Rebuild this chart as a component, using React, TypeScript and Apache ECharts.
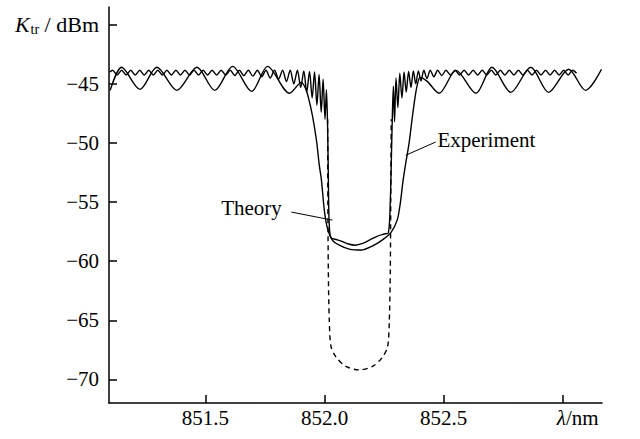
import React, { useEffect, useRef } from "react";
import * as echarts from "echarts";

// Axis ticks
const xTicks = [851.5, 852.0, 852.5, 853.0];
const yTicks = [-70, -65, -60, -55, -50, -45, -40];

// Experiment (large fringes, smooth wide dip)
const experiment: [number, number][] = [
  [851.1, -45.55], [851.148, -43.6], [851.225, -45.47], [851.296, -43.6],
  [851.38, -45.55], [851.464, -43.6], [851.539, -45.55], [851.614, -43.52],
  [851.694, -45.64], [851.761, -43.52], [851.853, -45.8], [851.903, -44.88],
  [851.92, -45.38], [851.932, -46.14], [851.949, -47.66], [851.966, -49.77],
  [851.978, -51.88], [851.987, -53.15], [851.999, -55.68], [852.012, -57.2],
  [852.033, -58.22], [852.062, -58.64], [852.104, -58.98], [852.154, -59.06],
  [852.2, -58.72], [852.242, -58.22], [852.28, -57.54], [852.305, -56.53],
  [852.317, -55.26], [852.33, -53.15], [852.343, -51.46], [852.355, -50.02],
  [852.368, -47.91], [852.38, -46.14], [852.389, -45.13], [852.401, -44.45],
  [852.431, -44.79], [852.481, -45.8], [852.552, -43.86], [852.636, -45.8],
  [852.703, -43.6], [852.782, -45.72], [852.866, -43.6], [852.941, -45.72],
  [853.025, -43.77], [853.096, -45.55], [853.163, -43.77],
];

// Theory (fine ripple, flat-bottomed dip)
const theory: [number, number][] = [
  [851.098, -44.0], [851.11, -43.85], [851.129, -44.25], [851.148, -43.85],
  [851.167, -44.25], [851.186, -43.85], [851.205, -44.25], [851.224, -43.85],
  [851.243, -44.25], [851.262, -43.85], [851.281, -44.25], [851.3, -43.85],
  [851.319, -44.25], [851.338, -43.85], [851.357, -44.25], [851.376, -43.85],
  [851.395, -44.25], [851.414, -43.85], [851.433, -44.25], [851.452, -43.85],
  [851.471, -44.25], [851.49, -43.85], [851.509, -44.25], [851.528, -43.85],
  [851.547, -44.25], [851.566, -43.85], [851.585, -44.25], [851.604, -43.85],
  [851.623, -44.3], [851.642, -43.85], [851.661, -44.3], [851.68, -43.85],
  [851.699, -44.35], [851.718, -43.85], [851.736, -44.4], [851.754, -43.85],
  [851.772, -44.5], [851.79, -43.85], [851.807, -44.6], [851.824, -43.85],
  [851.84, -44.8], [851.856, -43.85], [851.871, -45.0], [851.886, -43.85],
  [851.9, -45.3], [851.913, -43.9], [851.925, -45.7], [851.937, -43.95],
  [851.948, -46.2], [851.958, -44.0], [851.968, -46.8], [851.977, -44.2],
  [851.986, -47.4], [851.994, -44.6], [852.002, -48.0], [852.008, -45.5],
  [852.013, -48.8], [852.016, -53.0], [852.019, -56.5], [852.026, -58.0],
  [852.045, -58.15], [852.07, -58.3], [852.1, -58.55], [852.13, -58.65],
  [852.16, -58.5], [852.19, -58.2], [852.22, -57.9], [852.25, -57.7],
  [852.268, -57.6], [852.276, -55.0], [852.281, -51.0], [852.285, -47.5],
  [852.289, -45.2], [852.294, -48.2], [852.3, -44.5], [852.308, -47.0],
  [852.316, -44.1], [852.325, -46.2], [852.334, -44.0], [852.343, -45.7],
  [852.353, -43.95], [852.363, -45.3], [852.373, -43.9], [852.383, -45.0],
  [852.394, -43.9], [852.405, -44.75], [852.417, -43.85], [852.43, -44.55],
  [852.444, -43.85], [852.459, -44.4], [852.475, -43.85], [852.492, -44.3],
  [852.51, -43.85], [852.529, -44.25], [852.548, -43.85], [852.567, -44.25],
  [852.586, -43.85], [852.605, -44.25], [852.624, -43.85], [852.643, -44.25],
  [852.662, -43.85], [852.681, -44.25], [852.7, -43.85], [852.719, -44.25],
  [852.738, -43.85], [852.757, -44.25], [852.776, -43.85], [852.795, -44.25],
  [852.814, -43.85], [852.833, -44.25], [852.852, -43.85], [852.871, -44.25],
  [852.89, -43.85], [852.909, -44.25], [852.928, -43.85], [852.947, -44.25],
  [852.966, -43.85], [852.985, -44.25], [853.004, -43.85], [853.023, -44.25],
  [853.042, -43.85], [853.058, -44.1],
];

// Theory without loss (dashed, deep dip)
const theoryDashed: [number, number][] = [
  [852.013, -48.0], [852.014, -55.0], [852.016, -61.0], [852.02, -65.0],
  [852.027, -67.2], [852.048, -68.1], [852.09, -68.9], [852.146, -69.2],
  [852.202, -68.9], [852.244, -68.1], [852.265, -67.2], [852.272, -65.0],
  [852.276, -61.0], [852.278, -55.0], [852.28, -48.0],
];

// Annotation anchors (data coordinates)
const theoryLabelAt: [number, number] = [851.566, -55.52];
const theoryPointer: [number, number][] = [[851.861, -55.85], [852.033, -56.53]];
const experimentLabelAt: [number, number] = [852.474, -49.77];
const experimentPointer: [number, number][] = [[852.467, -49.92], [852.341, -51.04]];

const FONT = '"Liberation Serif", "Times New Roman", serif';
const FS = 21;

export default function App() {
  const ref = useRef<HTMLDivElement>(null);
  useEffect(() => {
    if (!ref.current) return;
    const chart = echarts.init(ref.current, null, { renderer: "svg" });
    const axisLine = { show: true, lineStyle: { color: "#000", width: 1.5 } };
    const lineSeries = (name: string, data: [number, number][], dashed = false) => ({
      name,
      type: "line",
      data,
      showSymbol: false,
      smooth: 0.3,
      silent: true,
      lineStyle: { color: "#000", width: 1.4, type: dashed ? [5, 4] : "solid" },
      itemStyle: { color: "#000" },
    });
    chart.setOption({
      animation: false,
      backgroundColor: "#fff",
      grid: { left: 109, right: 38, top: 7, bottom: 36, containLabel: false },
      xAxis: {
        type: "value",
        min: 851.095,
        max: 853.165,
        axisLine,
        splitLine: { show: false },
        axisTick: {
          inside: true,
          length: 8,
          customValues: xTicks,
          lineStyle: { color: "#000", width: 1.5 },
        },
        axisLabel: {
          customValues: xTicks,
          margin: 4,
          color: "#000",
          fontFamily: FONT,
          fontSize: FS,
          formatter: (v: number) =>
            Math.abs(v - 853) < 1e-6 ? "{l|λ}{n|/nm}" : v.toFixed(1),
          rich: {
            l: { fontStyle: "italic", fontFamily: FONT, fontSize: FS, color: "#000", padding: [0, 0, 0, 30] },
            n: { fontFamily: FONT, fontSize: FS, color: "#000" },
          },
        },
      },
      yAxis: {
        type: "value",
        min: -72,
        max: -38.5,
        axisLine,
        splitLine: { show: false },
        axisTick: {
          inside: true,
          length: 8,
          customValues: yTicks,
          lineStyle: { color: "#000", width: 1.5 },
        },
        axisLabel: {
          customValues: yTicks,
          margin: 10,
          color: "#000",
          fontFamily: FONT,
          fontSize: FS,
          formatter: (v: number) =>
            Math.abs(v + 40) < 1e-6 ? "{k|K}{s|tr}{n| / dBm}" : "\u2212" + Math.abs(v),
          rich: {
            k: { fontStyle: "italic", fontFamily: FONT, fontSize: 22, color: "#000" },
            s: { fontFamily: FONT, fontSize: 14, color: "#000", padding: [10, 0, 0, 1] },
            n: { fontFamily: FONT, fontSize: 22, color: "#000" },
          },
        },
      },
      series: [
        lineSeries("Experiment", experiment),
        lineSeries("Theory", theory),
        lineSeries("Theory (dashed)", theoryDashed, true),
      ],
    });

    const px = (pt: [number, number]) =>
      chart.convertToPixel({ gridIndex: 0 }, pt) as number[];
    const tl = px(theoryLabelAt);
    const tp0 = px(theoryPointer[0]);
    const tp1 = px(theoryPointer[1]);
    const el = px(experimentLabelAt);
    const ep0 = px(experimentPointer[0]);
    const ep1 = px(experimentPointer[1]);
    chart.setOption({
      graphic: [
        {
          type: "text",
          x: tl[0],
          y: tl[1],
          style: { text: "Theory", font: `${FS}px ${FONT}`, fill: "#000", align: "left", verticalAlign: "middle" },
        },
        {
          type: "line",
          shape: { x1: tp0[0], y1: tp0[1], x2: tp1[0], y2: tp1[1] },
          style: { stroke: "#000", lineWidth: 1 },
        },
        {
          type: "text",
          x: el[0],
          y: el[1],
          style: { text: "Experiment", font: `${FS}px ${FONT}`, fill: "#000", align: "left", verticalAlign: "middle" },
        },
        {
          type: "line",
          shape: { x1: ep0[0], y1: ep0[1], x2: ep1[0], y2: ep1[1] },
          style: { stroke: "#000", lineWidth: 1 },
        },
      ],
    });
    return () => chart.dispose();
  }, []);
  return (
    <div
      ref={ref}
      style={{ position: "fixed", left: 0, top: 0, width: 640, height: 439, background: "#fff" }}
    />
  );
}
